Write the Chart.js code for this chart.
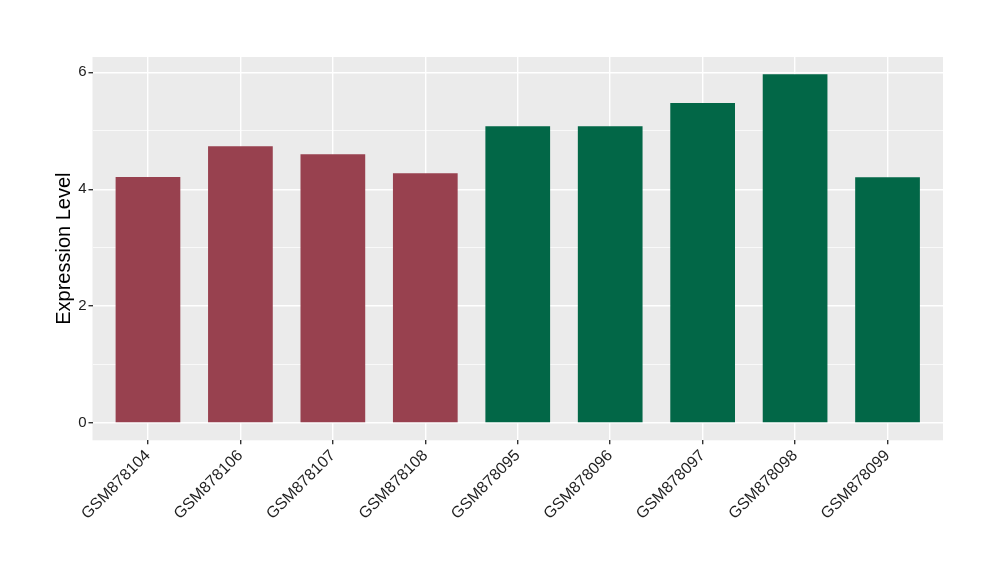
<!DOCTYPE html>
<html>
<head>
<meta charset="utf-8">
<script src="https://cdn.jsdelivr.net/npm/chart.js@4"></script>
<style>
html,body{margin:0;padding:0;background:#fff;}
canvas{display:block;}
</style>
</head>
<body>
<canvas id="c" width="1000" height="580"></canvas>
<script>
const categories = ['GSM878104','GSM878106','GSM878107','GSM878108','GSM878095','GSM878096','GSM878097','GSM878098','GSM878099'];
const values = [4.21, 4.735, 4.60, 4.275, 5.077, 5.077, 5.475, 5.966, 4.205];
const groups = ['A','A','A','A','B','B','B','B','B'];
const groupColors = {A:'#98414F', B:'#026747'};
const yTickValues = [0,1,2,3,4,5,6];
const yTickLabels = {0:'0',2:'2',4:'4',6:'6'};

const panelBg = {
  id:'panelBg',
  beforeDraw(chart){
    const {ctx, chartArea:a} = chart;
    ctx.save();
    ctx.fillStyle = '#EBEBEB';
    ctx.fillRect(a.left, a.top, a.right-a.left, a.bottom-a.top);
    ctx.restore();
  }
};

const fontFamily = '"Liberation Sans", Arial, Helvetica, sans-serif';

new Chart(document.getElementById('c'), {
  type:'bar',
  data:{
    datasets:[{
      data: values.map((v,i)=>({x:i+1, y:v})),
      backgroundColor: groups.map(g=>groupColors[g]),
      borderWidth:0,
      barPercentage:0.7,
      categoryPercentage:1.0
    }]
  },
  options:{
    responsive:false,
    animation:false,
    devicePixelRatio:1,
    layout:{padding:{top:57,right:57,left:0,bottom:0}},
    plugins:{legend:{display:false}, tooltip:{enabled:false}},
    scales:{
      x:{
        type:'linear',
        offset:false,
        min:0.4, max:9.6,
        afterBuildTicks(s){ s.ticks = categories.map((_,i)=>({value:i+1})); },
        afterFit(s){ s.height = 139.7; },
        border:{display:false},
        grid:{offset:false, color:'#FFFFFF', lineWidth:1.4, tickLength:4, tickColor:'#333333', drawTicks:true},
        ticks:{
          autoSkip:false, maxRotation:45, minRotation:45, padding:2,
          color:'#1E1E1E',
          font:{family:fontFamily, size:16},
          callback:(v)=>categories[v-1]
        }
      },
      y:{
        min:-0.296, max:6.262,
        afterBuildTicks(s){ s.ticks = yTickValues.map(v=>({value:v})); },
        afterFit(s){ s.width = 92.5; },
        border:{display:false},
        grid:{
          color:'#FFFFFF',
          lineWidth:(ctx)=> (ctx.tick && ctx.tick.value % 2 === 0) ? 1.4 : 0.7,
          tickLength:4,
          tickColor:(ctx)=> (ctx.tick && ctx.tick.value % 2 === 0) ? '#333333' : 'rgba(0,0,0,0)'
        },
        ticks:{
          padding:2, color:'#1E1E1E',
          font:{family:fontFamily, size:15},
          callback:(v)=> (yTickLabels[v] !== undefined ? yTickLabels[v] : '')
        },
        title:{
          display:true, text:'Expression Level', color:'#000000',
          font:{family:fontFamily, size:20},
          padding:{top:52, bottom:0}
        }
      }
    }
  },
  plugins:[panelBg]
});
</script>
</body>
</html>
